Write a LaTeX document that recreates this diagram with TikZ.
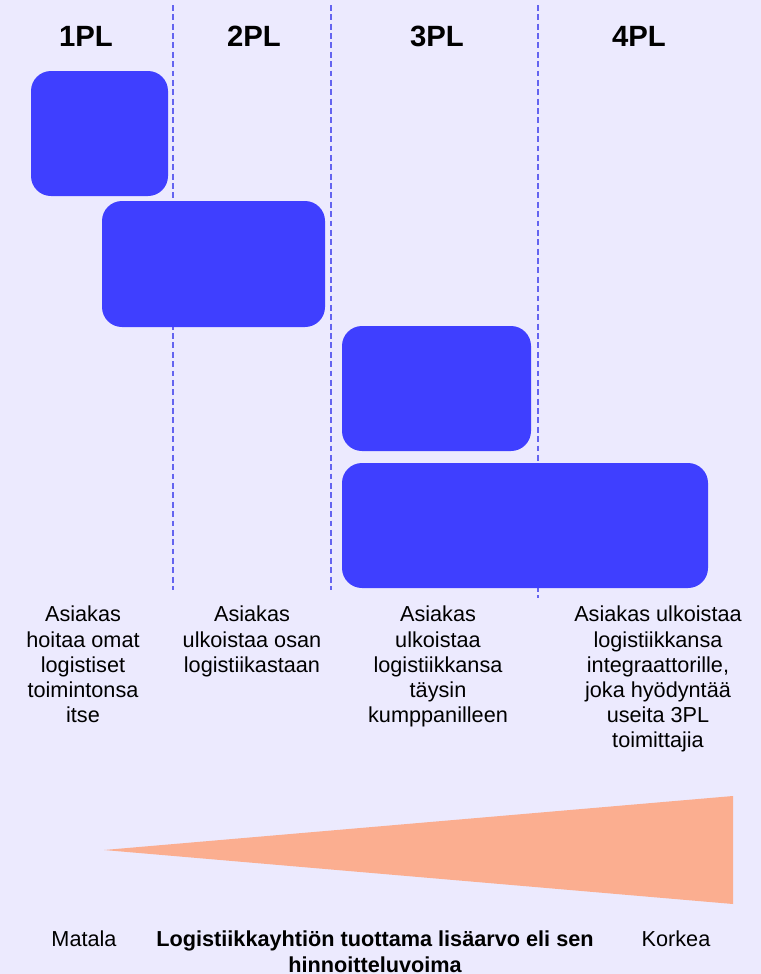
\documentclass[tikz,border=0pt]{standalone}
\usepackage{fontspec}
\setmainfont{Liberation Sans}
\usetikzlibrary{fit}
\definecolor{bgcol}{HTML}{ECEAFE}
\definecolor{boxblue}{HTML}{3F3FFF}
\definecolor{peach}{HTML}{FBAE90}
\definecolor{dashblue}{HTML}{6464F0}
\tikzset{
  pbox/.style={fill=boxblue, draw=none, rounded corners=0.6cm, inner sep=0pt},
  head/.style={font=\fontsize{25}{28}\selectfont\bfseries, anchor=base, inner sep=0pt},
  desc/.style={font=\fontsize{18.5}{21.4}\selectfont, align=center, anchor=north, inner sep=0pt},
  divider/.style={draw=dashblue, line width=1.1pt, dash pattern=on 5pt off 3pt},
}
\begin{document}
\begin{tikzpicture}[x=0.03cm, y=-0.03cm]
\fill[bgcol] (0,0) rectangle (761,974);
\useasboundingbox (0,0) rectangle (761,974);

% dividers
\coordinate (d1t) at (173,5);  \coordinate (d1b) at (173,590);
\coordinate (d2t) at (331,5);  \coordinate (d2b) at (331,590);
\coordinate (d3t) at (538,5);  \coordinate (d3b) at (538,598);
\draw[divider] (d1t) -- (d1b);
\draw[divider] (d2t) -- (d2b);
\draw[divider] (d3t) -- (d3b);

% headers
\node[head] (h1) at (86,46.7) {1PL};
\node[head] (h2) at (254,46.7) {2PL};
\node[head] (h3) at (437,46.7) {3PL};
\node[head] (h4) at (639,46.7) {4PL};

% boxes
\coordinate (b1a) at (31,71);   \coordinate (b1b) at (168,196);
\coordinate (b2a) at (102,201); \coordinate (b2b) at (325,327);
\coordinate (b3a) at (342,326); \coordinate (b3b) at (531,451);
\coordinate (b4a) at (342,463); \coordinate (b4b) at (708,588);
\node[pbox, fit=(b1a)(b1b)] (box1) {};
\node[pbox, fit=(b2a)(b2b)] (box2) {};
\node[pbox, fit=(b3a)(b3b)] (box3) {};
\node[pbox, fit=(b4a)(b4b)] (box4) {};

% descriptions
\node[desc] (t1) at (83,606) {Asiakas\\hoitaa omat\\logistiset\\toimintonsa\\itse};
\node[desc] (t2) at (252,606) {Asiakas\\ulkoistaa osan\\logistiikastaan};
\node[desc] (t3) at (438,606) {Asiakas\\ulkoistaa\\logistiikkansa\\täysin\\kumppanilleen};
\node[desc] (t4) at (658,606) {Asiakas ulkoistaa\\logistiikkansa\\integraattorille,\\joka hyödyntää\\useita 3PL\\toimittajia};

% wedge
\coordinate (wA) at (104,850);
\coordinate (wT) at (733,796);
\coordinate (wB) at (733,904);
\fill[peach] (wA) -- (wT) -- (wB) -- cycle;

% axis labels
\node[desc] (low) at (84,931) {Matala};
\node[desc, font=\fontsize{18.5}{21.4}\selectfont\bfseries] (mid) at (375,931) {Logistiikkayhtiön tuottama lisäarvo eli sen\\hinnoitteluvoima};
\node[desc] (high) at (676,931) {Korkea};
\end{tikzpicture}
\end{document}
